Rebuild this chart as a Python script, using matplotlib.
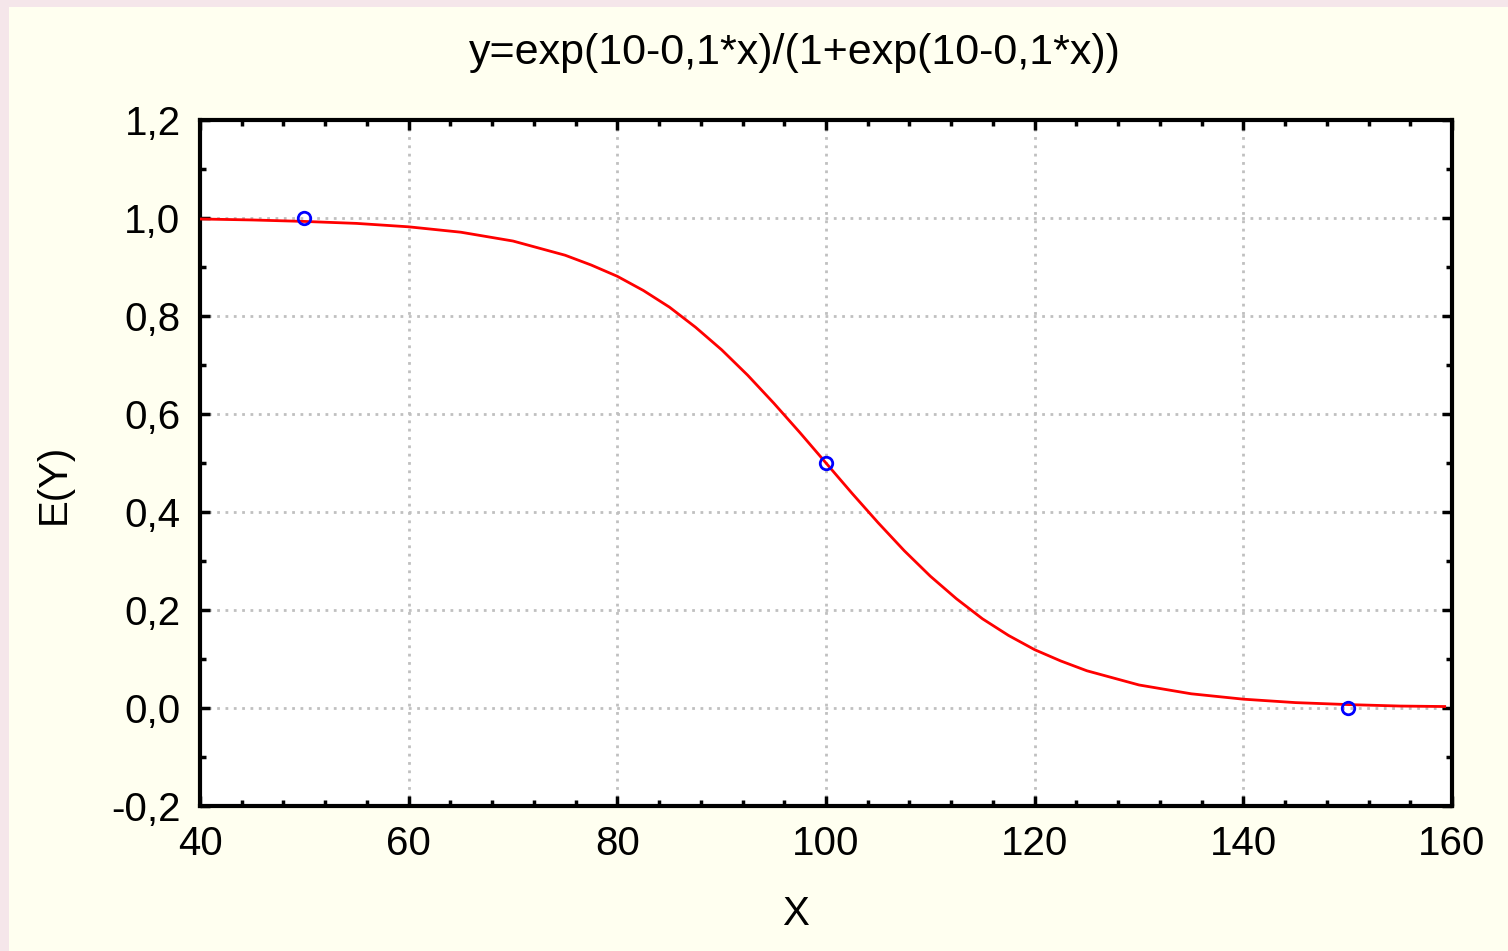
import matplotlib.pyplot as plt
from matplotlib.patches import Rectangle
from matplotlib.ticker import MultipleLocator, FuncFormatter

# curve values
curve_x = [40, 45, 50, 55, 60, 65, 70, 75, 77.5, 80, 82.5, 85, 87.5, 90, 92.5, 95,
           97.5, 100, 102.5, 105, 107.5, 110, 112.5, 115, 117.5, 120, 122.5, 125,
           130, 135, 140, 145, 150, 155, 159.3]
curve_y = [0.998, 0.996, 0.993, 0.989, 0.982, 0.971, 0.953, 0.924, 0.904, 0.881,
           0.852, 0.818, 0.777, 0.731, 0.679, 0.622, 0.562, 0.500, 0.438, 0.378,
           0.321, 0.269, 0.223, 0.182, 0.148, 0.119, 0.096, 0.076, 0.047, 0.029,
           0.018, 0.011, 0.007, 0.004, 0.003]

# observed points
pts_x = [50, 100, 150]
pts_y = [1.0, 0.5, 0.0]

title = "y=exp(10-0,1*x)/(1+exp(10-0,1*x))"

plt.rcParams['font.family'] = ['Liberation Sans', 'DejaVu Sans']

fig = plt.figure(figsize=(15.08, 9.51), dpi=100)
fig.patch.set_facecolor('#f5e6ea')
# cream panel
fig.patches.append(Rectangle((9/1508, 0), 1, 1 - 7/951, transform=fig.transFigure,
                             facecolor='#fffff0', edgecolor='none', zorder=-5))

ax = fig.add_axes([200/1508, 145/951, 1252/1508, 686/951])
ax.set_zorder(2)
ax.set_facecolor('white')

ax.plot(curve_x, curve_y, color='red', lw=2, zorder=3)
ax.plot(pts_x, pts_y, linestyle='none', marker='o', markersize=9,
        markerfacecolor='none', markeredgecolor='blue', markeredgewidth=2, zorder=4)

ax.set_xlim(40, 160)
ax.set_ylim(-0.2, 1.2)
ax.xaxis.set_major_locator(MultipleLocator(20))
ax.xaxis.set_minor_locator(MultipleLocator(4))
ax.yaxis.set_major_locator(MultipleLocator(0.2))
ax.yaxis.set_minor_locator(MultipleLocator(0.1))
ax.xaxis.set_major_formatter(FuncFormatter(lambda v, p: f"{v:.0f}"))
ax.yaxis.set_major_formatter(FuncFormatter(lambda v, p: f"{v:.1f}".replace('.', ',').replace('-0,0', '0,0')))

ax.grid(True, which='major', color='#c0c0c0', linestyle=(0, (1, 2)), lw=2)
ax.tick_params(which='both', direction='in', top=True, right=True, width=2.5)
ax.tick_params(which='major', length=7, labelsize=29, pad=14)
ax.tick_params(which='minor', length=4)
for s in ax.spines.values():
    s.set_linewidth(3)

ax.set_xlabel('X', fontsize=29)
ax.set_ylabel('E(Y)', fontsize=29)
ax.xaxis.set_label_coords(0.4755, -0.13)
ax.yaxis.set_label_coords(-0.102, 0.469)
ax.set_title(title, fontsize=31, pad=40, x=0.475)

fig.savefig('out.png', dpi=100, facecolor=fig.get_facecolor())
